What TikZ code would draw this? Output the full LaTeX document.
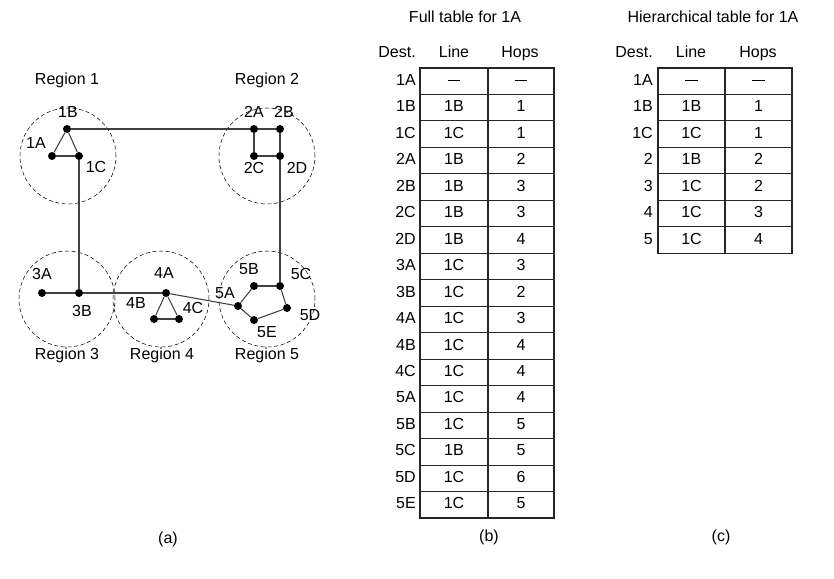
\documentclass[tikz,border=0pt]{standalone}
\usepackage{fontspec}
\setmainfont{Liberation Sans}
\newcommand{\mydash}{\rule[3.3pt]{9.5pt}{0.9pt}}
\begin{document}
\begin{tikzpicture}[x=0.75pt,y=-0.75pt,
  dot/.style={circle,fill=black,inner sep=0pt,minimum size=6pt},
  lbl/.style={font=\fontsize{12}{14}\selectfont,inner sep=0pt,text height=8.6pt,text depth=2.5pt},
  reg/.style={draw,dash pattern=on 3pt off 2pt,circle,minimum size=72pt,inner sep=0pt},
  link/.style={draw=black!75,line width=0.8pt},
  cell/.style={draw=black!85,line width=0.8pt}]
\useasboundingbox (0,0) rectangle (834,578);
% regions
\node[reg] (r1) at (68,156) {};
\node[reg] (r2) at (267,156) {};
\node[reg] (r3) at (67,299) {};
\node[reg] (r4) at (161,299) {};
\node[reg] (r5) at (267,299) {};
\node[lbl] (R1) at (67,80) {Region 1};
\node[lbl] (R2) at (267,80) {Region 2};
\node[lbl] (R3) at (67,355) {Region 3};
\node[lbl] (R4) at (162,355) {Region 4};
\node[lbl] (R5) at (267,355) {Region 5};
% routers
\foreach \n/\x/\y in {1B/67/129,1A/52/156,1C/79/156,2A/254/129,2B/280/129,2C/254/156,2D/280/156,
  3A/42/293,3B/79/293,4A/166/293,4B/154/319,4C/179/319,5A/238/306,5B/254/286,5C/280/286,5D/287/308,5E/254/320}
  \node[dot] (n\n) at (\x,\y) {};
\foreach \n/\x/\y in {1B/68/113,1A/36/144,1C/96/168,2A/254/113,2B/284/113,2C/254/169,2D/297/169,
  3A/42/275,3B/82/312,4A/164/274,4B/136/304,4C/193/309,5A/225/294,5B/249/270,5C/301/275,5D/310/316,5E/267/333}
  \node[lbl] (l\n) at (\x,\y) {\n};
\foreach \a/\b in {1B/2A,2A/2B,1B/1A,1B/1C,1A/1C,1C/3B,3A/3B,3B/4A,4A/4B,4A/4C,4B/4C,4A/5A,
  2A/2C,2C/2D,2B/2D,2D/5C,5B/5C,5A/5B,5C/5D,5D/5E,5E/5A}
  \draw[link] (n\a) -- (n\b);
\node[lbl] (ca) at (168,539) {(a)};
% full table
\def\rh{26.47}
\node[lbl] (tb) at (465,18) {Full table for 1A};
\node[lbl,anchor=east] (hb1) at (416,53) {Dest.};
\node[lbl] (hb2) at (454,53) {Line};
\node[lbl] (hb3) at (520,53) {Hops};
\foreach \d/\l/\h [count=\i from 0] in {1A/\mydash/\mydash,1B/1B/1,1C/1C/1,2A/1B/2,2B/1B/3,2C/1B/3,2D/1B/4,3A/1C/3,3B/1C/2,4A/1C/3,4B/1C/4,4C/1C/4,5A/1C/4,5B/1C/5,5C/1B/5,5D/1C/6,5E/1C/5}{
  \node[cell,minimum width=51pt,minimum height=19.85pt,inner sep=0pt] (bl\i) at (454,{68+(\i+0.5)*\rh}) {};
  \node[cell,minimum width=49.5pt,minimum height=19.85pt,inner sep=0pt] (bh\i) at (521,{68+(\i+0.5)*\rh}) {};
  \node[lbl] at (bl\i) {\l};
  \node[lbl] at (bh\i) {\h};
  \node[lbl,anchor=east] (bd\i) at (416,{68+(\i+0.5)*\rh}) {\d};
}
\node[lbl] (cb) at (489,537) {(b)};
% hierarchical table
\node[lbl] (tc) at (713,18) {Hierarchical table for 1A};
\node[lbl,anchor=east] (hc1) at (653,53) {Dest.};
\node[lbl] (hc2) at (691,53) {Line};
\node[lbl] (hc3) at (758,53) {Hops};
\foreach \d/\l/\h [count=\i from 0] in {1A/\mydash/\mydash,1B/1B/1,1C/1C/1,2/1B/2,3/1C/2,4/1C/3,5/1C/4}{
  \node[cell,minimum width=50.25pt,minimum height=19.85pt,inner sep=0pt] (cl\i) at (691.5,{68+(\i+0.5)*\rh}) {};
  \node[cell,minimum width=50.25pt,minimum height=19.85pt,inner sep=0pt] (ch\i) at (758.5,{68+(\i+0.5)*\rh}) {};
  \node[lbl] at (cl\i) {\l};
  \node[lbl] at (ch\i) {\h};
  \node[lbl,anchor=east] (cd\i) at (653,{68+(\i+0.5)*\rh}) {\d};
}
\node[lbl] (cc) at (721,537) {(c)};
\end{tikzpicture}
\end{document}
